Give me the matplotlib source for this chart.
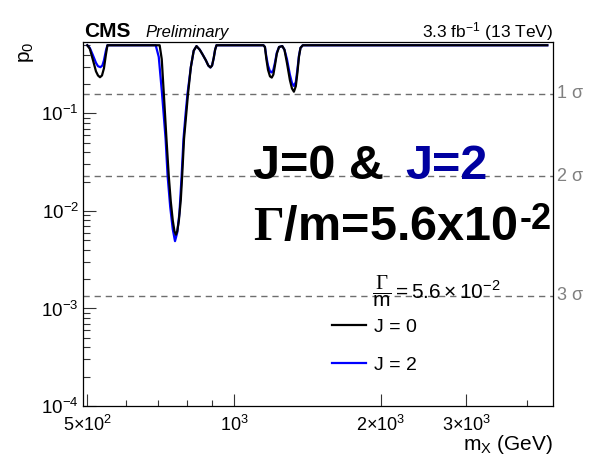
import matplotlib
matplotlib.use("Agg")
import matplotlib.pyplot as plt
from matplotlib.ticker import FixedLocator, FixedFormatter, LogLocator, NullFormatter

plt.rcParams["font.family"] = ["Liberation Sans", "DejaVu Sans"]
plt.rcParams["mathtext.fontset"] = "custom"
plt.rcParams["mathtext.rm"] = "Liberation Sans"
plt.rcParams["mathtext.it"] = "Liberation Sans:italic"
plt.rcParams["mathtext.bf"] = "Liberation Serif:bold"
plt.rcParams["mathtext.sf"] = "Liberation Sans:bold"
plt.rcParams["mathtext.tt"] = "Liberation Serif"

W, H = 603, 455

# local p-value scan vs resonance mass, spin-0 hypothesis
mass_j0 = [500, 506, 513, 521, 526, 531, 536, 541, 546, 550,
           704, 711, 718, 727, 735, 742, 749, 755, 760, 765, 771, 778, 783,
           790, 797, 805, 816, 827, 838, 851, 863, 876, 886, 895, 902, 909,
           915, 921,
           1150, 1158, 1166, 1175, 1186, 1196, 1205, 1214, 1225, 1238, 1257,
           1270, 1285, 1303, 1316, 1328, 1340, 1350, 1360, 1370, 1385, 4400]
p0_j0 = [0.5, 0.46, 0.36, 0.27, 0.245, 0.235, 0.245, 0.29, 0.40, 0.5,
         0.5, 0.36, 0.159, 0.055, 0.0228, 0.0125, 0.0080, 0.0062, 0.0057,
         0.0062, 0.0080, 0.0130, 0.0228,
         0.055, 0.09, 0.159, 0.30, 0.44, 0.49, 0.45, 0.40, 0.35, 0.31, 0.296,
         0.31, 0.37, 0.45, 0.5,
         0.5, 0.48, 0.36, 0.28, 0.24, 0.233, 0.25, 0.31, 0.41, 0.48, 0.49,
         0.45, 0.33, 0.22, 0.18, 0.167, 0.19, 0.26, 0.38, 0.47, 0.5, 0.5]

# same scan, spin-2 hypothesis
mass_j2 = [500, 506, 513, 521, 526, 532, 537, 541, 546, 550,
           691, 701, 712, 724, 731, 740, 749, 757, 765, 773, 781, 788, 796,
           803, 816, 827, 838, 851, 863, 876, 886, 895, 902, 909, 915, 921,
           1150, 1158, 1166, 1175, 1186, 1196, 1205, 1214, 1225, 1238, 1257,
           1270, 1285, 1303, 1316, 1328, 1340, 1350, 1360, 1370, 1385, 4400]
p0_j2 = [0.5, 0.47, 0.40, 0.33, 0.305, 0.298, 0.31, 0.35, 0.44, 0.5,
         0.5, 0.38, 0.159, 0.055, 0.0228, 0.011, 0.0065, 0.0049, 0.0060,
         0.0095, 0.0228, 0.055, 0.10,
         0.159, 0.30, 0.44, 0.49, 0.45, 0.40, 0.35, 0.31, 0.296, 0.31, 0.37,
         0.45, 0.5,
         0.5, 0.48, 0.38, 0.31, 0.27, 0.263, 0.28, 0.33, 0.42, 0.48, 0.49,
         0.45, 0.36, 0.25, 0.205, 0.191, 0.21, 0.28, 0.39, 0.47, 0.5, 0.5]

# one-sided p-values for 1, 2, 3 sigma
sigma_p0 = [0.1587, 0.02275, 0.00135]
sigma_labels = ["1 σ", "2 σ", "3 σ"]

xtick_vals = [500, 1000, 2000, 3000]
xtick_labels = [r"$5{\times}10^{2}$", r"$10^{3}$", r"$2{\times}10^{3}$", r"$3{\times}10^{3}$"]
xminor_vals = [600, 700, 800, 900, 4000]
ytick_vals = [1e-4, 1e-3, 1e-2, 1e-1]
ytick_labels = [r"$10^{-4}$", r"$10^{-3}$", r"$10^{-2}$", r"$10^{-1}$"]


def fx(px):
    return px / W


def fy(py):
    return 1 - py / H


fig = plt.figure(figsize=(W / 100, H / 100), dpi=100)
ax = fig.add_axes([fx(83), fy(406), 470 / W, 364 / H])
ax.set_xscale("log")
ax.set_yscale("log")
ax.set_xlim(490, 4520)
ax.set_ylim(1e-4, 0.54)

for p in sigma_p0:
    ax.axhline(p, color="#6e6e6e", lw=1.0, ls=(0, (4.5, 3.5)), zorder=1)
for p, lab in zip(sigma_p0, sigma_labels):
    ax.text(1.008, p, lab, transform=ax.get_yaxis_transform(), color="#808080",
            fontsize=13, ha="left", va="center", clip_on=False)

l2, = ax.plot(mass_j2, p0_j2, color="#0000ff", lw=1.6, zorder=3)
l0, = ax.plot(mass_j0, p0_j0, color="black", lw=1.6, zorder=4)

ax.xaxis.set_major_locator(FixedLocator(xtick_vals))
ax.xaxis.set_major_formatter(FixedFormatter(xtick_labels))
ax.xaxis.set_minor_locator(FixedLocator(xminor_vals))
ax.xaxis.set_minor_formatter(NullFormatter())
ax.yaxis.set_major_locator(FixedLocator(ytick_vals))
ax.yaxis.set_major_formatter(FixedFormatter(ytick_labels))
ax.yaxis.set_minor_locator(LogLocator(base=10, subs=range(2, 10), numticks=20))
ax.yaxis.set_minor_formatter(NullFormatter())
ax.tick_params(which="both", direction="in", top=False, right=False,
               width=0.8, color="#333333")
ax.tick_params(axis="y", which="major", length=9.5, pad=3, labelsize=13.5)
ax.tick_params(axis="y", which="minor", length=5)
ax.tick_params(axis="x", which="major", length=8.5, pad=6.5, labelsize=13)
ax.tick_params(axis="x", which="minor", length=4.5)
for s in ax.spines.values():
    s.set_linewidth(0.9)

fig.text(fx(27), fy(42), r"p$_{0}$", rotation=90, ha="center", va="top", fontsize=15)
fig.text(fx(553), fy(450), r"m$_{\mathrm{X}}$ (GeV)", ha="right", va="baseline",
         fontsize=15)

fig.text(fx(84), fy(37), "CMS", fontsize=15, fontweight="bold", va="baseline")
fig.text(fx(145), fy(37), "Preliminary", fontsize=12, fontstyle="italic", va="baseline")
fig.text(fx(553), fy(37), r"3.3 fb$^{-1}$ (13 TeV)", fontsize=12.5, ha="right", va="baseline")

# big annotation in the middle of the frame
fig.text(fx(253), fy(179), "J=0 &", fontsize=35, fontweight="bold", va="baseline")
fig.text(fx(405), fy(179), "J=2", fontsize=35, fontweight="bold", va="baseline",
         color="#0000a0")
width_txt = fig.text(fx(253), fy(240), r"$\mathbf{\Gamma}$/m=5.6x10", fontsize=35,
                     fontweight="bold", va="baseline")
ax.annotate("-2", xy=(1, 1), xycoords=width_txt, xytext=(1, 2),
            textcoords="offset points", fontsize=26, fontweight="bold",
            ha="left", va="top", annotation_clip=False)

# legend: header with the width, then the two hypotheses
fig.text(fx(372), fy(291), r"$\dfrac{\mathtt{\Gamma}}{\mathrm{m}} = 5.6\times10^{-2}$",
         fontsize=15, ha="left", va="center")
ax.legend([l0, l2], ["J = 0", "J = 2"], loc="upper left",
          bbox_to_anchor=((332 - 83) / 470, (406 - 318) / 364), frameon=False,
          fontsize=14, handlelength=1.75, handletextpad=0.4, labelspacing=1.05,
          borderpad=0, borderaxespad=0)

fig.savefig("out.png", dpi=100)
